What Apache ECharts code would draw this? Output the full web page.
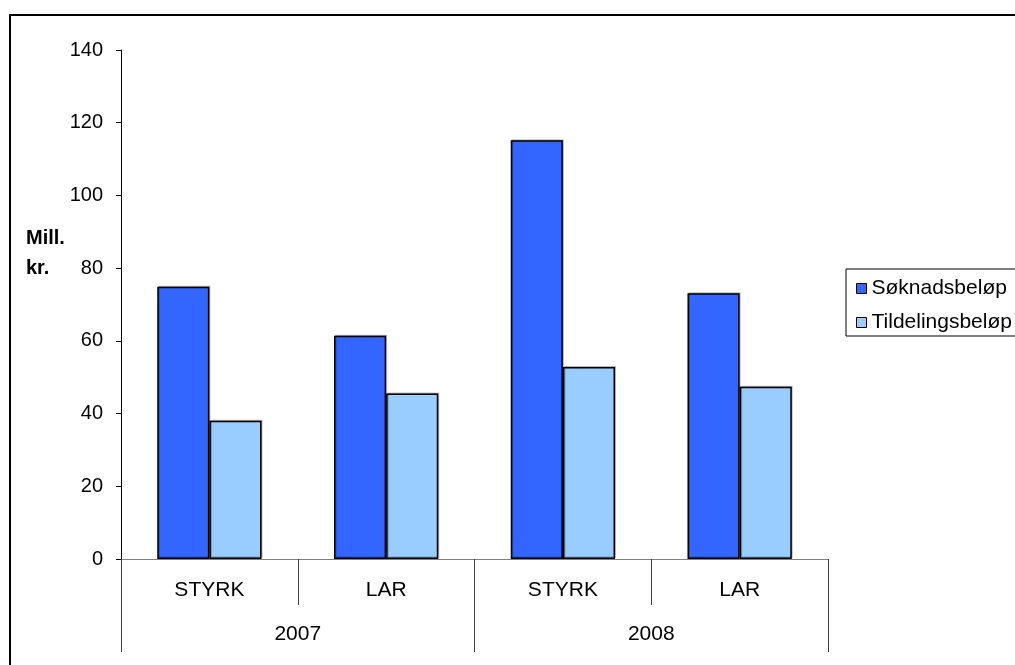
<!DOCTYPE html>
<html>
<head>
<meta charset="utf-8">
<script src="https://cdn.jsdelivr.net/npm/echarts@6/dist/echarts.min.js"></script>
<style>
  html, body { margin: 0; padding: 0; background: #fff; }
  #chart { width: 1015px; height: 665px; }
</style>
</head>
<body>
<div id="chart"></div>
<script>
// Programme categories within each year
const categories = ['STYRK', 'LAR', 'STYRK', 'LAR'];
const years = ['2007', '2008'];
// Amounts in million NOK
const soknadsbelop = [74.9, 61.4, 115.2, 73.1];
const tildelingsbelop = [38.0, 45.5, 52.8, 47.4];
const yTicks = { min: 0, max: 140, step: 20 };

const FONT = 'Liberation Sans, Arial, sans-serif';
const FS = 20;
const FS_CAT = 21;
const chart = echarts.init(document.getElementById('chart'), null, { renderer: 'canvas' });

const barStyle = (color) => ({
  color: color,
  borderColor: '#000',
  borderWidth: 1.5,
  shadowColor: 'rgba(0,0,0,0.25)',
  shadowOffsetX: 1,
  shadowOffsetY: -1
});

chart.setOption({
  animation: false,
  textStyle: { fontFamily: FONT },
  grid: { left: 121, right: 187, top: 50, bottom: 106, containLabel: false },
  graphic: [
    { type: 'rect', shape: { x: 10, y: 15, width: 1200, height: 800 },
      style: { fill: null, stroke: '#000', lineWidth: 2 }, silent: true },
    { type: 'text', left: 26, top: 223,
      style: { text: 'Mill.\nkr.', font: 'bold 20px ' + FONT, fill: '#000', lineHeight: 30 } }
  ],
  legend: {
    orient: 'vertical',
    left: 846, top: 269,
    padding: [9, 40, 3, 10],
    itemGap: 13,
    itemWidth: 10, itemHeight: 10,
    icon: 'rect',
    borderColor: '#000', borderWidth: 1,
    itemStyle: { borderColor: '#000', borderWidth: 1, shadowColor: 'transparent' },
    textStyle: { fontSize: FS_CAT, color: '#000', fontFamily: FONT },
    data: ['Søknadsbeløp', 'Tildelingsbeløp']
  },
  xAxis: [
    {
      type: 'category', data: categories, position: 'bottom',
      axisLine: { show: true, lineStyle: { color: '#808080', width: 1 } },
      axisTick: { show: true, interval: 0, length: 46, lineStyle: { color: '#404040' } },
      axisLabel: { interval: 0, margin: 21, fontSize: FS_CAT, color: '#000', fontFamily: FONT }
    },
    {
      type: 'category', data: years, position: 'bottom',
      axisLine: { show: false },
      axisTick: { show: true, interval: 0, length: 93, lineStyle: { color: '#404040' } },
      axisLabel: { interval: 0, margin: 65, fontSize: FS_CAT, color: '#000', fontFamily: FONT }
    }
  ],
  yAxis: {
    type: 'value', min: yTicks.min, max: yTicks.max, interval: yTicks.step,
    axisLine: { show: true, lineStyle: { color: '#000', width: 1 } },
    axisTick: { show: true, length: 5, lineStyle: { color: '#000' } },
    splitLine: { show: false },
    axisLabel: { margin: 18, fontSize: FS, color: '#000', fontFamily: FONT }
  },
  series: [
    { name: 'Søknadsbeløp', type: 'bar', xAxisIndex: 0, data: soknadsbelop,
      barGap: '0%', barCategoryGap: '41%', itemStyle: barStyle('#3366FF') },
    { name: 'Tildelingsbeløp', type: 'bar', xAxisIndex: 0, data: tildelingsbelop,
      barGap: '0%', barCategoryGap: '41%', itemStyle: barStyle('#99CCFF') }
  ]
});
</script>
</body>
</html>
